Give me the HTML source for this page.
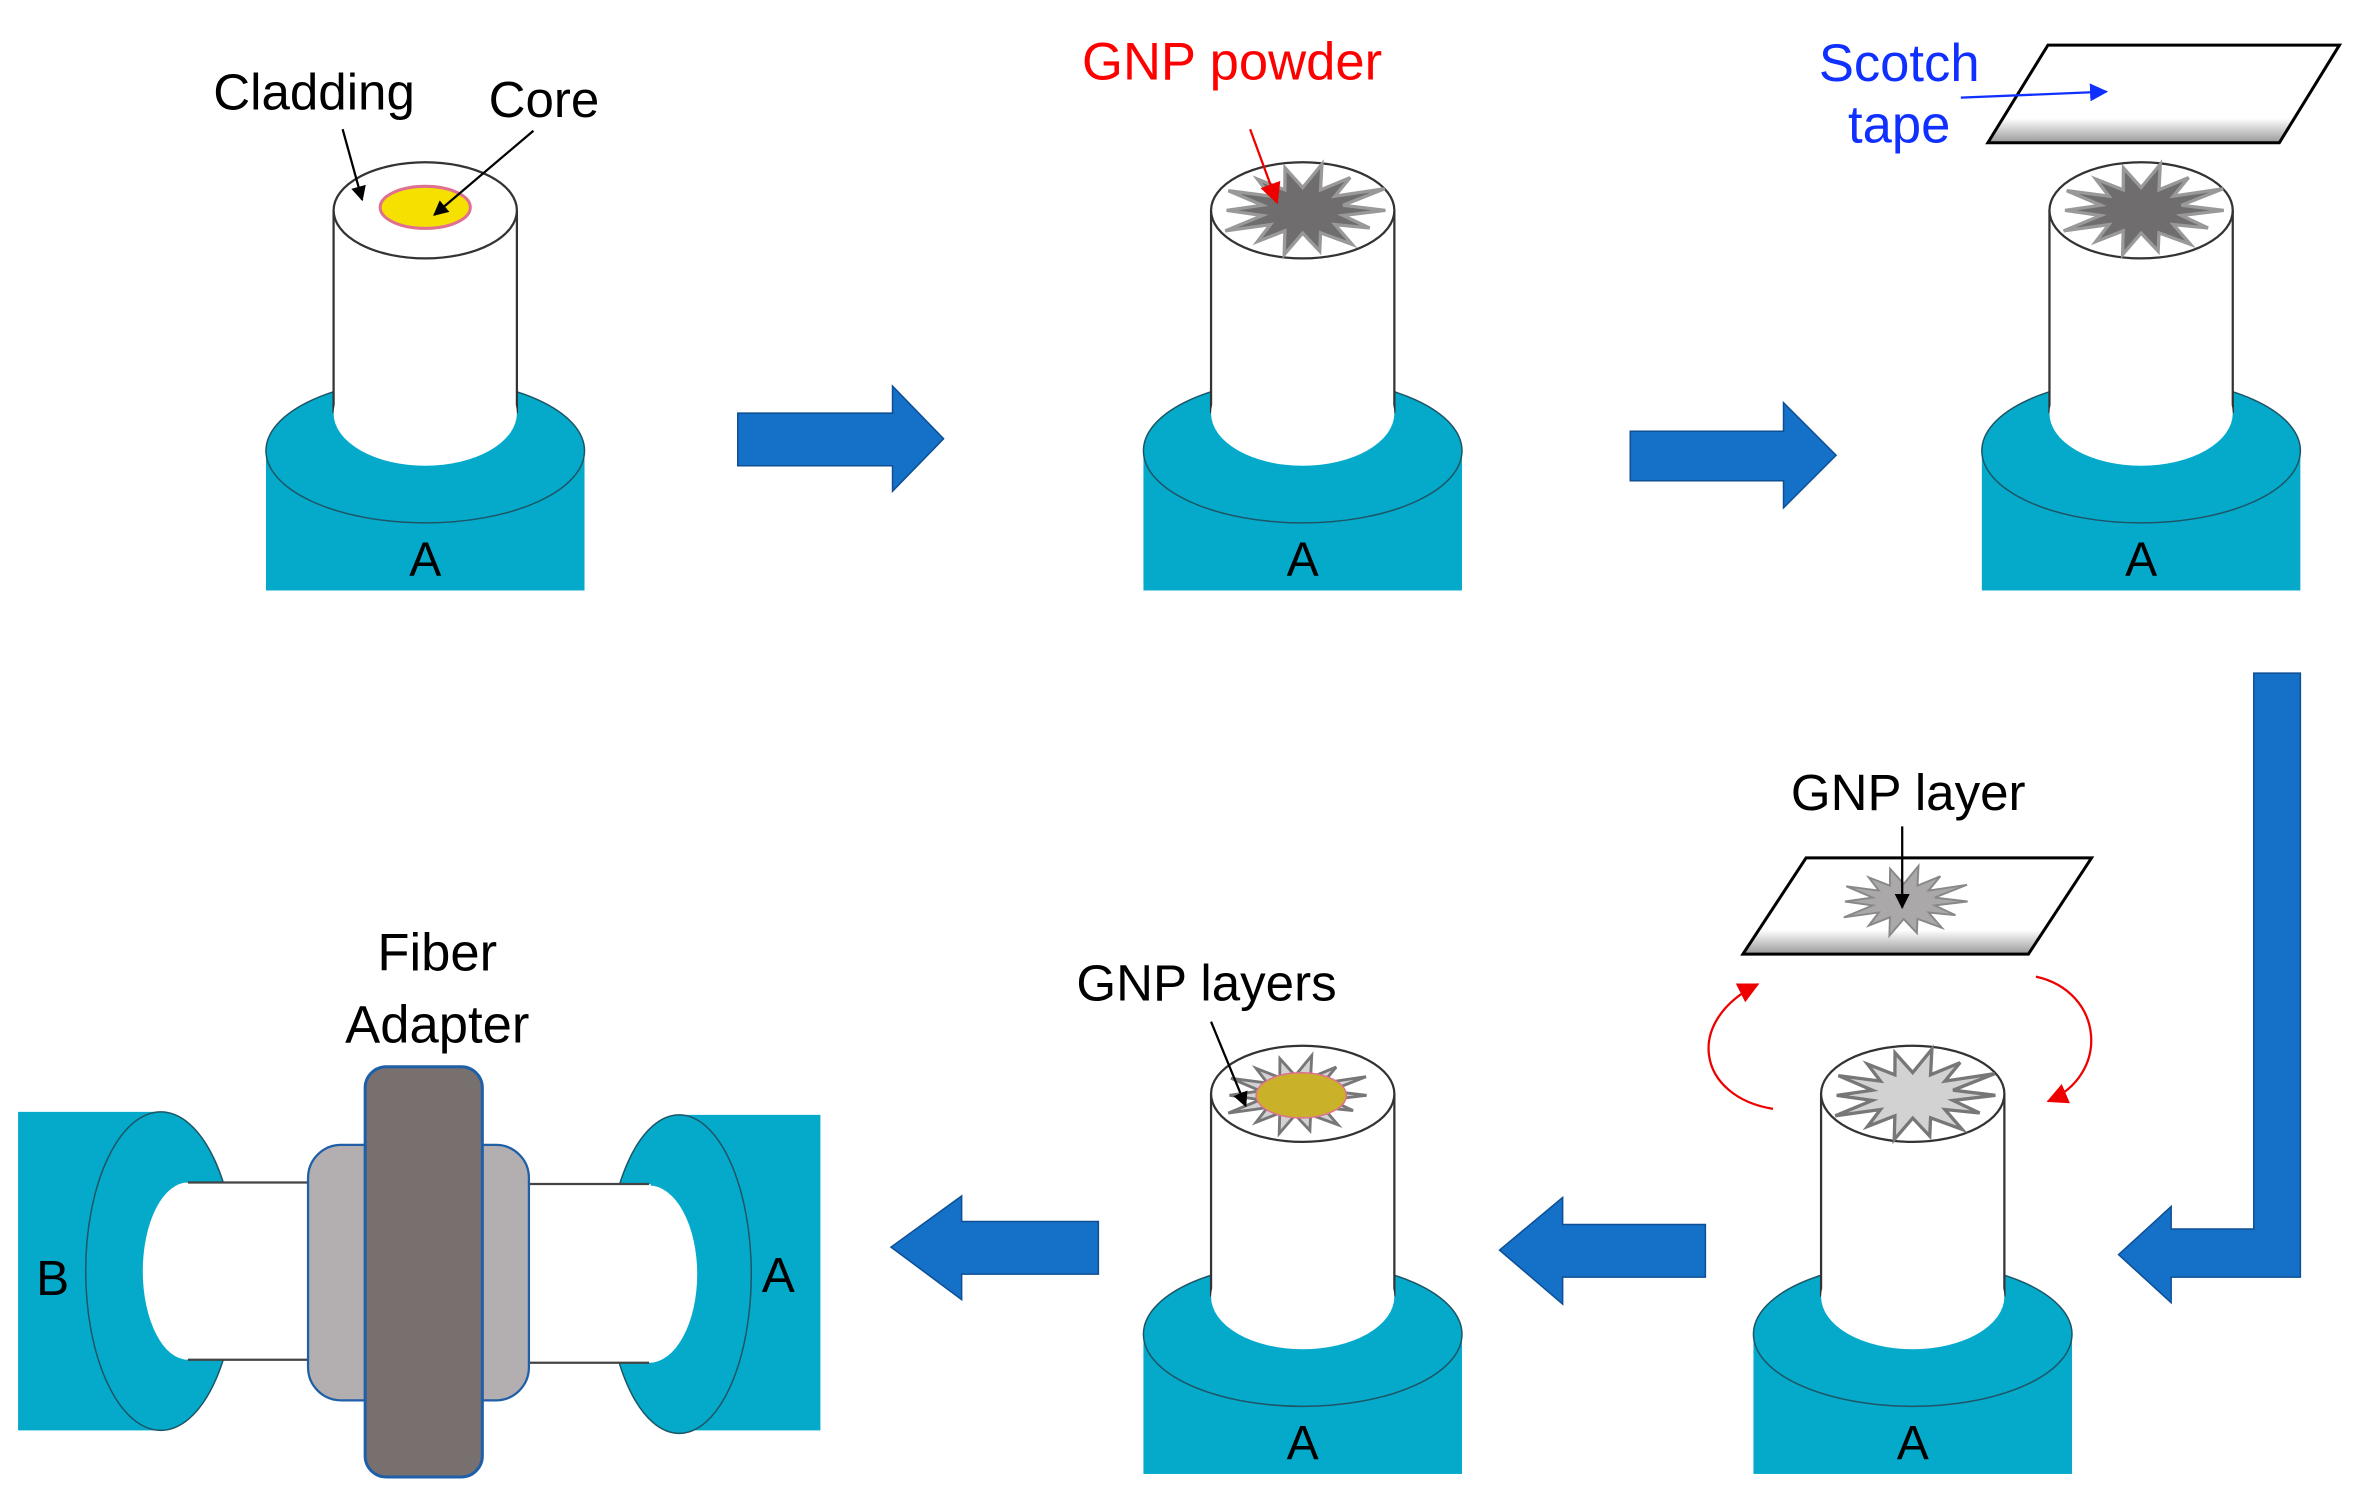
<!DOCTYPE html>
<html><head><meta charset="utf-8"><style>html,body{margin:0;padding:0;background:#fff}svg{display:block}</style></head>
<body>
<svg width="2356" height="1501" viewBox="0 0 1568 999" xmlns="http://www.w3.org/2000/svg" font-family="Liberation Sans, Arial, sans-serif">
<defs>
<polygon id="star" points="50,0 24.4,3.1 40.5,10.7 19.5,8.6 29.9,20.6 10.8,13.6 10.3,24.7 0,13.75 -11.2,26.8 -10.8,12.4 -27.4,18.9 -19.5,8.6 -46.9,12.4 -24.4,3.1 -46,0 -24.4,-3.1 -45,-11.9 -19.5,-8.6 -27.4,-18.9 -10.8,-12.4 -10.7,-25.7 0,-13.75 11.6,-27.9 10.8,-12.4 28.7,-19.8 19.5,-8.6 49.6,-13.1 24.4,-3.1"/>
<g id="unit">
<rect x="-106" y="300" width="212" height="93" fill="#05AACB"/>
<ellipse cx="0" cy="300" rx="106" ry="48" fill="#05AACB" stroke="#1d5566" stroke-width="1"/>
<rect x="-61" y="140" width="122" height="135" fill="#fff"/>
<line x1="-61" y1="140" x2="-61" y2="275" stroke="#333" stroke-width="1.5"/>
<line x1="61" y1="140" x2="61" y2="275" stroke="#333" stroke-width="1.5"/>
<ellipse cx="0" cy="275" rx="61" ry="35" fill="#fff"/>
<ellipse cx="0" cy="140" rx="61" ry="32" fill="#fff" stroke="#333" stroke-width="1.5"/>
<text x="0" y="383" font-size="32" text-anchor="middle" fill="#000">A</text>
</g>
<marker id="ak" markerWidth="10" markerHeight="10" refX="9" refY="5" orient="auto" markerUnits="userSpaceOnUse"><path d="M0,0 L10,5 L0,10z" fill="#000"/></marker>
<marker id="ar" markerWidth="14" markerHeight="14" refX="13" refY="7" orient="auto" markerUnits="userSpaceOnUse"><path d="M0,0 L14,7 L0,14z" fill="#e00"/></marker>
<marker id="ab" markerWidth="12" markerHeight="12" refX="11" refY="6" orient="auto" markerUnits="userSpaceOnUse"><path d="M0,0 L12,6 L0,12z" fill="#1030ff"/></marker>
<linearGradient id="tg" x1="0" y1="0" x2="0" y2="1"><stop offset="0.75" stop-color="#fff"/><stop offset="1" stop-color="#999"/></linearGradient>
</defs>

<use href="#unit" transform="translate(283,0)"/>
<ellipse cx="283" cy="138" rx="30" ry="14" fill="#f5e000" stroke="#e07090" stroke-width="2"/>
<text x="209" y="73" font-size="34" text-anchor="middle">Cladding</text>
<text x="362" y="78" font-size="34" text-anchor="middle">Core</text>
<line x1="228" y1="86" x2="241" y2="133" stroke="#000" stroke-width="1.5" marker-end="url(#ak)"/>
<line x1="355" y1="87" x2="289" y2="143" stroke="#000" stroke-width="1.5" marker-end="url(#ak)"/>

<polygon points="491,275 594,275 594,257 628,292 594,327 594,310 491,310" fill="#1570C8" stroke="#0d4f95" stroke-width="1"/>

<use href="#unit" transform="translate(867,0)"/>
<use href="#star" transform="translate(867,140) scale(1.1)" fill="#6f6d6e" stroke="#999" stroke-width="2"/>
<text x="820" y="53" font-size="35" text-anchor="middle" fill="#f00">GNP powder</text>
<line x1="832" y1="86" x2="850" y2="135" stroke="#e00" stroke-width="1.5" marker-end="url(#ar)"/>

<polygon points="1085,287 1187,287 1187,268 1222,303 1187,338 1187,320 1085,320" fill="#1570C8" stroke="#0d4f95" stroke-width="1"/>

<use href="#unit" transform="translate(1425,0)"/>
<use href="#star" transform="translate(1425,140) scale(1.1)" fill="#6f6d6e" stroke="#999" stroke-width="2"/>
<polygon points="1323,95 1363,30 1557,30 1517,95" fill="url(#tg)" stroke="#000" stroke-width="2"/>
<text x="1264" y="54" font-size="35" text-anchor="middle" fill="#1030ff">Scotch</text>
<text x="1264" y="95" font-size="35" text-anchor="middle" fill="#1030ff">tape</text>
<line x1="1305" y1="65" x2="1402" y2="61" stroke="#1030ff" stroke-width="1.5" marker-end="url(#ab)"/>

<polygon points="1500,448 1531,448 1531,850 1445,850 1445,867 1410,835 1445,803 1445,818 1500,818" fill="#1570C8" stroke="#0d4f95" stroke-width="1"/>

<use href="#unit" transform="translate(1273,588)"/>
<use href="#star" transform="translate(1273,729) scale(1.1)" fill="#d3d2d3" stroke="#777" stroke-width="2"/>
<polygon points="1160,635 1202,571 1392,571 1350,635" fill="url(#tg)" stroke="#000" stroke-width="2"/>
<use href="#star" transform="translate(1267,600) scale(0.85)" fill="#aaa8a9" stroke="#888" stroke-width="1.5"/>
<text x="1270" y="539" font-size="34" text-anchor="middle">GNP layer</text>
<line x1="1266" y1="550" x2="1266" y2="604" stroke="#000" stroke-width="1.5" marker-end="url(#ak)"/>
<path d="M1180,738 C1130,730 1120,680 1170,655" fill="none" stroke="#e00" stroke-width="1.5" marker-end="url(#ar)"/>
<path d="M1355,650 C1400,660 1405,715 1363,733" fill="none" stroke="#e00" stroke-width="1.5" marker-end="url(#ar)"/>

<polygon points="1135,815 1040,815 1040,797 998,832 1040,868 1040,850 1135,850" fill="#1570C8" stroke="#0d4f95" stroke-width="1"/>

<use href="#unit" transform="translate(867,588)"/>
<use href="#star" transform="translate(862,729) scale(0.95)" fill="#d3d2d3" stroke="#777" stroke-width="2"/>
<ellipse cx="866" cy="729" rx="30" ry="15" fill="#c9b22a" stroke="#e07090" stroke-width="1"/>
<text x="803" y="666" font-size="34" text-anchor="middle">GNP layers</text>
<line x1="806" y1="680" x2="829" y2="736" stroke="#000" stroke-width="1.5" marker-end="url(#ak)"/>

<polygon points="731,813 640,813 640,796 593,830 640,865 640,848 731,848" fill="#1570C8" stroke="#0d4f95" stroke-width="1"/>

<rect x="12" y="740" width="95" height="212" fill="#05AACB"/>
<ellipse cx="107" cy="846" rx="50" ry="106" fill="#05AACB" stroke="#1d5566" stroke-width="1"/>
<rect x="125" y="787" width="85" height="118" fill="#fff"/>
<ellipse cx="125" cy="846" rx="30" ry="59" fill="#fff"/>
<line x1="125" y1="787" x2="210" y2="787" stroke="#444" stroke-width="1.5"/>
<line x1="125" y1="905" x2="210" y2="905" stroke="#444" stroke-width="1.5"/>

<rect x="450" y="742" width="96" height="210" fill="#05AACB"/>
<ellipse cx="452" cy="848" rx="48" ry="106" fill="#05AACB" stroke="#1d5566" stroke-width="1"/>
<rect x="345" y="788" width="88" height="119" fill="#fff"/>
<ellipse cx="432" cy="848" rx="32" ry="59" fill="#fff"/>
<line x1="345" y1="788" x2="432" y2="788" stroke="#444" stroke-width="1.5"/>
<line x1="345" y1="907" x2="432" y2="907" stroke="#444" stroke-width="1.5"/>

<rect x="205" y="762" width="147" height="170" rx="22" fill="#b3afb0" stroke="#1f5fa8" stroke-width="1.5"/>
<rect x="243" y="710" width="78" height="273" rx="14" fill="#77706f" stroke="#1f5fa8" stroke-width="2"/>

<text x="35" y="862" font-size="33" text-anchor="middle">B</text>
<text x="518" y="860" font-size="33" text-anchor="middle">A</text>
<text x="291" y="646" font-size="35" text-anchor="middle">Fiber</text>
<text x="291" y="694" font-size="35" text-anchor="middle">Adapter</text>
</svg>
</body></html>
